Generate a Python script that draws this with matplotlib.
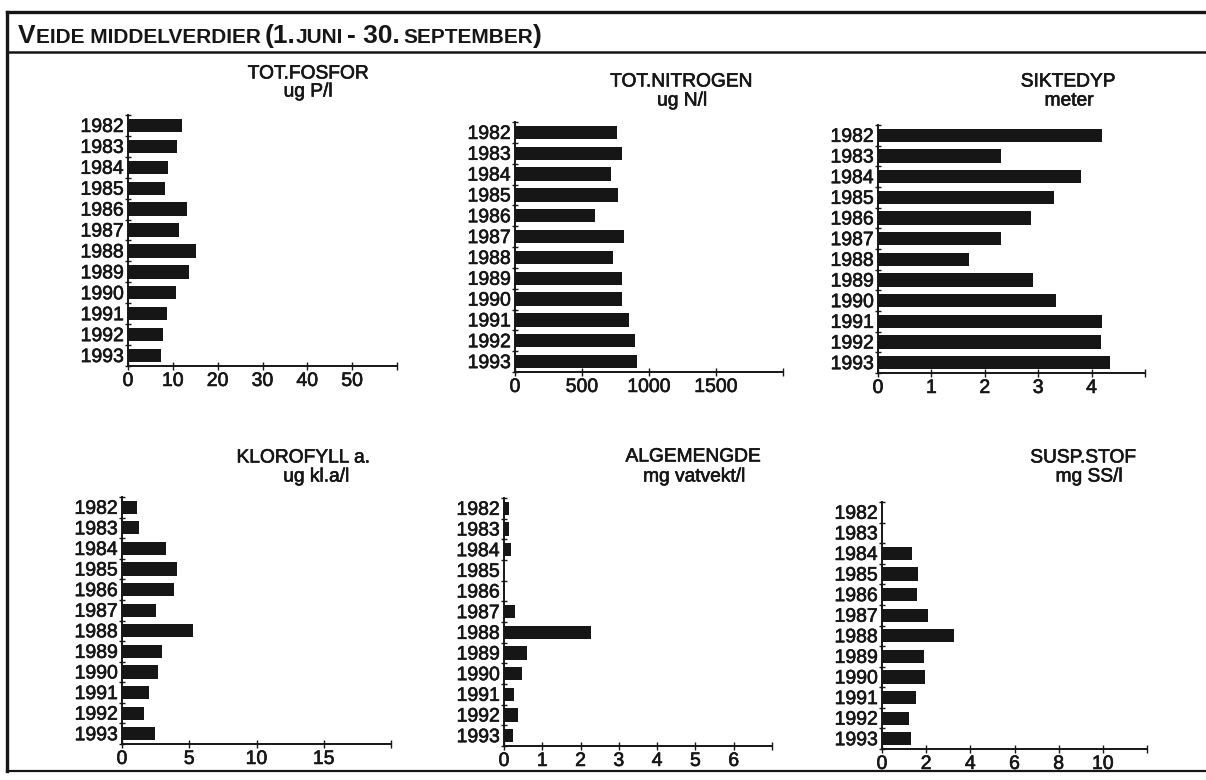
import numpy as np
import matplotlib
matplotlib.use("Agg")
import matplotlib.pyplot as plt
from matplotlib import font_manager
from matplotlib.lines import Line2D
import matplotlib.patheffects as pe

# ---------------- data ----------------
years = [str(y) for y in range(1982, 1994)]

tot_fosfor = [12.1, 11.0, 9.0, 8.2, 13.1, 11.4, 15.1, 13.7, 10.6, 8.6, 7.9, 7.3]
tot_nitrogen = [759, 801, 719, 771, 595, 813, 734, 801, 801, 848, 896, 908]
siktedyp = [4.19, 2.31, 3.80, 3.30, 2.86, 2.31, 1.70, 2.91, 3.34, 4.20, 4.18, 4.35]
klorofyll = [1.09, 1.29, 3.29, 4.08, 3.89, 2.55, 5.30, 2.95, 2.70, 2.03, 1.61, 2.43]
algemengde = [0.14, 0.14, 0.19, 0.0, 0.0, 0.30, 2.27, 0.59, 0.48, 0.26, 0.37, 0.23]
susp_stof = [np.nan, np.nan, 1.34, 1.64, 1.58, 2.08, 3.24, 1.92, 1.93, 1.54, 1.24, 1.31]

panel_titles = ["TOT.FOSFOR", "TOT.NITROGEN", "SIKTEDYP",
                "KLOROFYLL a.", "ALGEMENGDE", "SUSP.STOF"]
panel_units = ["ug P/l", "ug N/l", "meter", "ug kl.a/l", "mg vatvekt/l", "mg SS/l"]

fosfor_ticks = [0, 10, 20, 30, 40, 50]
nitrogen_ticks = [0, 500, 1000, 1500]
sikt_ticks = [0, 1, 2, 3, 4]
klor_ticks = [0, 5, 10, 15]
alge_ticks = [0, 1, 2, 3, 4, 5, 6]
susp_ticks = [0, 2, 4, 6, 8, 10]
axis_max = [60, 2000, 5, 20, 7, 12]

main_title = [("V", "big"), ("EIDE MIDDELVERDIER", "small"), ("(1.", "big"),
              ("JUNI", "small"), ("- 30.", "big"), ("SEPTEMBER", "small"), (")", "big")]

series = [tot_fosfor, tot_nitrogen, siktedyp, klorofyll, algemengde, susp_stof]
ticks = [fosfor_ticks, nitrogen_ticks, sikt_ticks, klor_ticks, alge_ticks, susp_ticks]

# ---------------- layout (pixels) ----------------
W, H = 1206, 780
boxes = [(128, 115, 397, 366), (515, 122, 783, 372), (878, 125, 1145, 373),
         (122, 497, 391, 744), (504, 498, 772, 746), (882, 502, 1147, 749)]
title_pos = [(308, 74, 308, 92), (681, 82, 682, 101), (1068, 82, 1069, 101),
             (303, 458, 316, 477), (693, 457, 694, 477), (1083, 458, 1089, 477)]


def fx(px):
    return px / W


def fy(py):
    return 1 - py / H


def has_font(name):
    try:
        font_manager.findfont(font_manager.FontProperties(family=name),
                              fallback_to_default=False)
        return True
    except Exception:
        return False


base_font = "Liberation Sans" if has_font("Liberation Sans") else "DejaVu Sans"
narrow_font = "Liberation Sans Narrow" if has_font("Liberation Sans Narrow") else base_font
plt.rcParams["font.family"] = [base_font, "DejaVu Sans"]

fig = plt.figure(figsize=(W / 100, H / 100), dpi=100)
fig.patch.set_facecolor("white")

ink = "#161616"
heavy = [pe.withStroke(linewidth=0.45, foreground=ink)]

for i in range(6):
    l, t, r, b = boxes[i]
    ax = fig.add_axes([fx(l), fy(b), fx(r) - fx(l), (b - t) / H])
    ypos = np.arange(len(years))
    ax.barh(ypos, series[i], height=0.64, color=ink, edgecolor="none", zorder=2)
    ax.set_ylim(len(years) - 0.5, -0.5)
    ax.set_xlim(0, axis_max[i])
    for s in ("top", "right"):
        ax.spines[s].set_visible(False)
    for s in ("left", "bottom"):
        ax.spines[s].set_linewidth(1.4)
        ax.spines[s].set_color(ink)
    ax.patch.set_alpha(0)

    ax.set_yticks(ypos)
    ax.set_yticklabels(years, fontsize=14, color=ink)
    ax.set_yticks(np.arange(-0.5, len(years)), minor=True)
    ax.tick_params(axis="y", which="major", length=0, pad=3)
    ax.tick_params(axis="y", which="minor", length=4.5, width=1.0,
                   direction="inout", color=ink)

    xt = list(ticks[i]) + [axis_max[i]]
    xl = [str(v) for v in ticks[i]] + [""]
    ax.set_xticks(xt)
    ax.set_xticklabels(xl, fontsize=14, color=ink)
    ax.tick_params(axis="x", which="major", length=6, width=1.0,
                   direction="inout", color=ink, pad=2)
    for lab in ax.get_xticklabels() + ax.get_yticklabels():
        lab.set_path_effects(heavy)

    cx1, y1, cx2, y2 = title_pos[i]
    fig.text(fx(cx1), fy(y1), panel_titles[i], ha="center", va="center",
             fontsize=13.8, color=ink, path_effects=heavy)
    fig.text(fx(cx2), fy(y2), panel_units[i], ha="center", va="center",
             fontsize=13.8, color=ink, path_effects=heavy)

# ---------------- frame ----------------
frame_lines = [
    ([7, W], [12, 12], 2.4),
    ([7, W], [52, 52], 1.8),
    ([7, 7], [12, 771], 2.4),
    ([7, W], [771, 771], 1.6),
]
for xs, ys, lw in frame_lines:
    fig.add_artist(Line2D([fx(v) for v in xs], [fy(v) for v in ys],
                          transform=fig.transFigure, color=ink, lw=lw))

# ---------------- main title (small caps) ----------------
renderer = fig.canvas.get_renderer()
x = 18
base_y = 43
sizes = {"big": 19, "small": 15}
space_px = 4
for k, (txt, kind) in enumerate(main_title):
    t = fig.text(fx(x), fy(base_y), txt, ha="left", va="baseline",
                 fontsize=sizes[kind], fontweight="bold", color=ink,
                 family=[narrow_font, "DejaVu Sans"])
    bb = t.get_window_extent(renderer)
    x += bb.width
    if txt in ("EIDE MIDDELVERDIER", "JUNI", "- 30."):
        x += space_px

fig.savefig("out.png", dpi=100, facecolor="white")
